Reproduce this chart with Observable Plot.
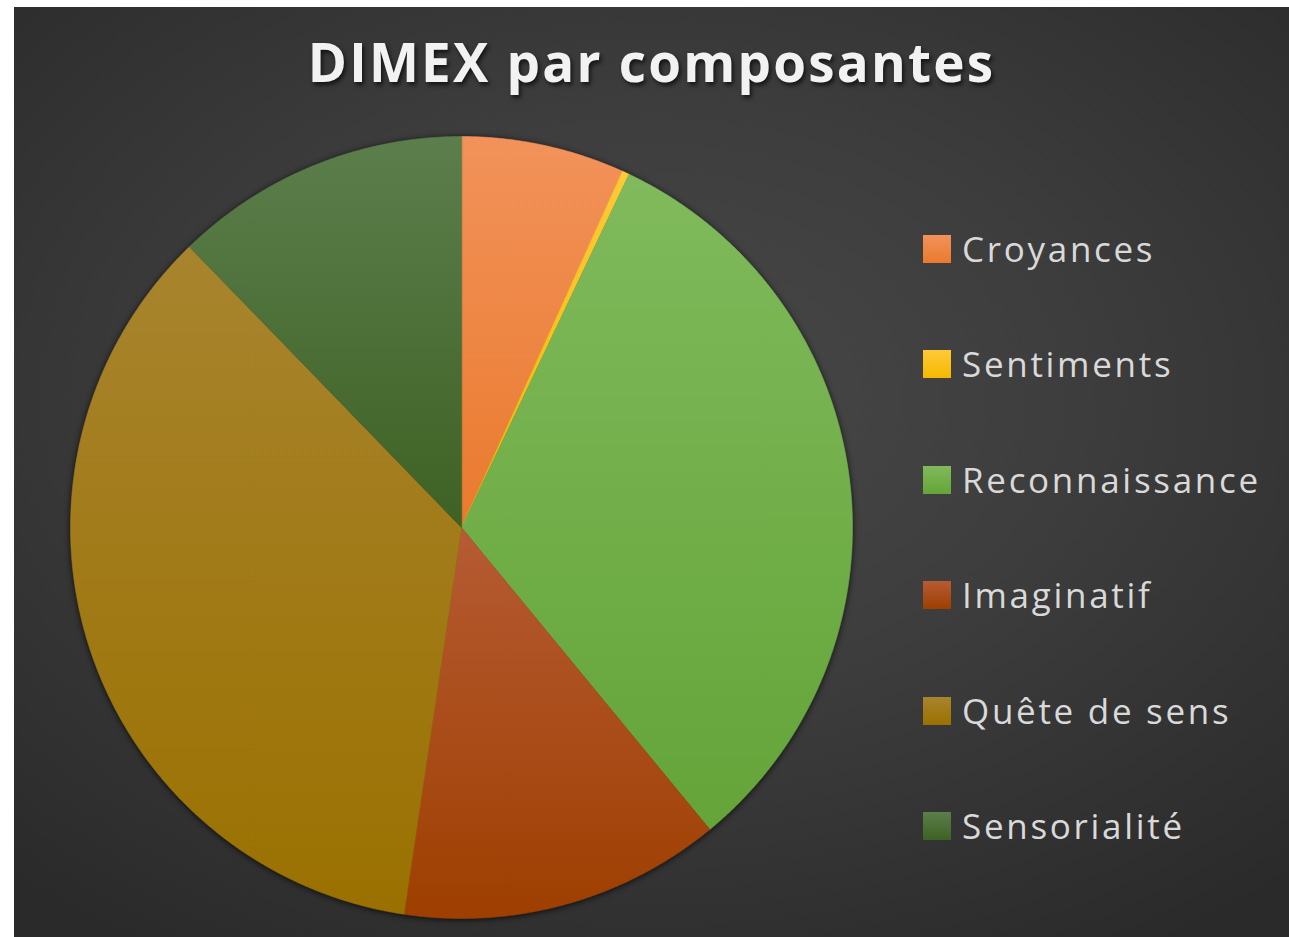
<!DOCTYPE html>
<html>
<head>
<meta charset="utf-8">
<script src="https://cdn.jsdelivr.net/npm/d3@7"></script>
<script src="https://cdn.jsdelivr.net/npm/@observablehq/plot@0.6"></script>
<style>
  html, body { margin: 0; padding: 0; background: #ffffff; width: 1289px; height: 937px; overflow: hidden; }
  #panel {
    position: absolute; left: 14px; top: 7px; width: 1275px; height: 930px; overflow: hidden;
    background: radial-gradient(ellipse 75% 70% at 50% 42%, #484848 0%, #3d3d3d 45%, #2a2a2a 100%);
    font-family: "Open Sans", "DejaVu Sans", sans-serif;
  }
  #chart { position: absolute; left: 0; top: 0; }
  #title {
    position: absolute; left: 0; top: 28px; width: 1275px; text-align: center;
    font-size: 53px; line-height: 53px; font-weight: bold; color: #f2f2f2;
    letter-spacing: 2.2px;
    text-shadow: 2px 3px 4px rgba(0,0,0,0.65);
  }
  .row { position: absolute; left: 909px; height: 40px; display: flex; align-items: center; }
  .sw { width: 28px; height: 28px; margin-right: 11px; }
  .lab { font-size: 35px; line-height: 40px; color: #d9d9d9; letter-spacing: 2.7px; white-space: nowrap; }
</style>
</head>
<body>
<div id="panel">
  <div id="chart"></div>
  <div id="title">DIMEX par composantes</div>
  <div id="legend"></div>
</div>
<script>
// ---- data ----
const categories = ["Croyances", "Sentiments", "Reconnaissance", "Imaginatif", "Quête de sens", "Sensorialité"];
const values = [6.75, 0.3, 32.0, 13.3, 35.4, 12.25];
const topColors = ["#F2925A", "#FFC937", "#80BA5C", "#B65B34", "#A8842E", "#5C7E4C"];
const bottomColors = ["#EA7A2E", "#F5B800", "#64A438", "#9E3F00", "#9A7100", "#3E6124"];

// ---- pie geometry from data ----
const rows = categories.map((c, i) => ({category: c, value: values[i]}));
const arcs = d3.pie().sort(null).value(d => d.value)(rows);
const pts = [];
for (const a of arcs) {
  const c = a.data.category;
  pts.push({category: c, x: 0, y: 0});
  const n = Math.max(2, Math.ceil((a.endAngle - a.startAngle) / (Math.PI / 720)));
  for (let k = 0; k <= n; k++) {
    const t = a.startAngle + (a.endAngle - a.startAngle) * k / n;
    pts.push({category: c, x: Math.sin(t), y: Math.cos(t)});
  }
}

const cx = 447, cy = 520, r = 391;
const gradIds = categories.map((_, i) => `slice-grad-${i}`);

const svg = Plot.plot({
  width: 1275,
  height: 930,
  margin: 0,
  style: {background: "transparent", overflow: "visible"},
  x: {domain: [-1, 1], range: [cx - r, cx + r], axis: null},
  y: {domain: [-1, 1], range: [cy + r, cy - r], axis: null},
  color: {type: "ordinal", domain: categories, range: gradIds.map(id => `url(#${id})`)},
  marks: [
    Plot.line(pts, {x: "x", y: "y", z: "category", fill: "category", stroke: "category", strokeWidth: 0.6, curve: "linear-closed"})
  ]
});

const defs = d3.select(svg).insert("defs", ":first-child");
categories.forEach((c, i) => {
  const g = defs.append("linearGradient").attr("id", gradIds[i])
    .attr("x1", 0).attr("y1", 0).attr("x2", 0).attr("y2", 1);
  g.append("stop").attr("offset", "0%").attr("stop-color", topColors[i]);
  g.append("stop").attr("offset", "100%").attr("stop-color", bottomColors[i]);
});
d3.select(svg).selectAll("g[aria-label='line']").style("filter", "drop-shadow(0px 1px 3px rgba(0,0,0,0.75))");

document.getElementById("chart").appendChild(svg);

// ---- legend ----
const legend = document.getElementById("legend");
const rowTop0 = 222, rowStep = 115.4;
categories.forEach((c, i) => {
  const row = document.createElement("div");
  row.className = "row";
  row.style.top = (rowTop0 + i * rowStep) + "px";
  const sw = document.createElement("div");
  sw.className = "sw";
  sw.style.background = `linear-gradient(${topColors[i]}, ${bottomColors[i]})`;
  const lab = document.createElement("div");
  lab.className = "lab";
  lab.textContent = c;
  row.appendChild(sw);
  row.appendChild(lab);
  legend.appendChild(row);
});
</script>
</body>
</html>
